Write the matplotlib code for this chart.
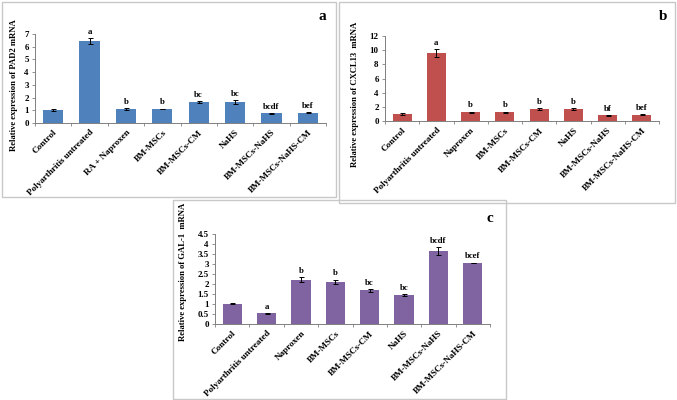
import matplotlib
matplotlib.use('Agg')
import matplotlib.pyplot as plt
from matplotlib.patches import Rectangle
import numpy as np

plt.rcParams['font.family'] = ['Liberation Serif', 'DejaVu Serif']
plt.rcParams['font.weight'] = 'bold'

W, H = 677, 400

# panel a - PAD2
groups_a = ['Control', 'Polyarthritis untreated', 'RA + Naproxen', 'BM-MSCs',
            'BM-MSCs-CM', 'NaHS', 'BM-MSCs-NaHS', 'BM-MSCs-NaHS-CM']
pad2 = [1.02, 6.45, 1.08, 1.10, 1.65, 1.65, 0.77, 0.82]
pad2_err = [0.08, 0.20, 0.08, 0.03, 0.08, 0.12, 0.03, 0.03]
pad2_sig = ['', 'a', 'b', 'b', 'bc', 'bc', 'bcdf', 'bef']

# panel b - CXCL13
groups_bc = ['Control', 'Polyarthritis untreated', 'Naproxen', 'BM-MSCs',
             'BM-MSCs-CM', 'NaHS', 'BM-MSCs-NaHS', 'BM-MSCs-NaHS-CM']
cxcl13 = [1.00, 9.55, 1.25, 1.25, 1.70, 1.70, 0.80, 0.90]
cxcl13_err = [0.12, 0.55, 0.08, 0.08, 0.15, 0.15, 0.05, 0.05]
cxcl13_sig = ['', 'a', 'b', 'b', 'b', 'b', 'bf', 'bef']

# panel c - GAL-1
gal1 = [1.02, 0.53, 2.22, 2.10, 1.68, 1.45, 3.65, 3.05]
gal1_err = [0.04, 0.02, 0.12, 0.12, 0.08, 0.06, 0.20, 0.02]
gal1_sig = ['', 'a', 'b', 'b', 'bc', 'bc', 'bcdf', 'bcef']


def px_rect(x0, y0, x1, y1):
    return [x0 / W, 1 - y1 / H, (x1 - x0) / W, (y1 - y0) / H]


def draw_panel(fig, box, ax_box, names, vals, errs, sig, color, ymax, ystep,
               ylabel, label_pos, letter, letter_xy, fmt):
    fig.patches.append(Rectangle((box[0] / W, 1 - box[3] / H),
                                 (box[2] - box[0]) / W, (box[3] - box[1]) / H,
                                 transform=fig.transFigure, fill=False,
                                 edgecolor='#c8c8c8', linewidth=1.0))
    ax = fig.add_axes(px_rect(*ax_box))
    x = np.arange(len(vals))
    ax.bar(x, vals, width=0.56, color=color, zorder=2)
    ax.errorbar(x, vals, yerr=errs, fmt='none', ecolor='black',
                elinewidth=0.7, capsize=1.8, capthick=0.7, zorder=3)
    for xi, v, e, s in zip(x, vals, errs, sig):
        ax.text(xi, v + e + ymax * 0.025, s, ha='center', va='bottom',
                fontsize=6.3, fontweight='bold')
    ax.set_xlim(-0.5, len(vals) - 0.5)
    ax.set_ylim(0, ymax)
    ticks = np.arange(0, ymax + ystep / 2, ystep)
    ax.set_yticks(ticks)
    ax.set_yticklabels([fmt(t) for t in ticks], fontsize=6.5, fontweight='bold')
    ax.set_xticks(x)
    ax.set_xticklabels(names, rotation=45, ha='right', rotation_mode='anchor',
                       fontsize=6.6, fontweight='bold')
    ax.set_xticks(np.arange(-0.5, len(vals)), minor=True)
    ax.tick_params(axis='x', which='major', length=0, pad=4)
    ax.tick_params(axis='x', which='minor', length=2.5, width=0.6, color='#808080')
    ax.tick_params(axis='y', length=2.5, width=0.6, color='#808080', pad=2)
    for sp in ['top', 'right']:
        ax.spines[sp].set_visible(False)
    for sp in ['left', 'bottom']:
        ax.spines[sp].set_color('#808080')
        ax.spines[sp].set_linewidth(0.7)
    ax.set_ylabel(ylabel, fontsize=6.2, fontweight='bold', va='center')
    lx = (label_pos[0] - ax_box[0]) / (ax_box[2] - ax_box[0])
    ly = (ax_box[3] - label_pos[1]) / (ax_box[3] - ax_box[1])
    ax.yaxis.set_label_coords(lx, ly)
    fig.text(letter_xy[0] / W, 1 - letter_xy[1] / H, letter, fontsize=11,
             fontweight='bold', ha='center', va='center')
    return ax


fig = plt.figure(figsize=(W / 100, H / 100), dpi=100)

draw_panel(fig, (2, 2, 336, 197), (35, 34, 326, 123), groups_a, pad2, pad2_err,
           pad2_sig, '#4f81bd', 7, 1, 'Relative expression of PAD2 mRNA',
           (14, 85), 'a', (322, 17), lambda t: '%d' % t)
draw_panel(fig, (339, 2, 675, 203), (385, 36, 659, 121), groups_bc, cxcl13,
           cxcl13_err, cxcl13_sig, '#c0504d', 12, 2,
           'Relative expression of CXCL13  mRNA', (355, 94), 'b', (663, 17),
           lambda t: '%d' % t)
draw_panel(fig, (173, 200, 506, 399), (215, 234, 490, 324), groups_bc, gal1,
           gal1_err, gal1_sig, '#8064a2', 4.5, 0.5,
           'Relative expression of GAL-1  mRNA', (183, 272), 'c', (490, 218),
           lambda t: ('%g' % t))

fig.savefig('out.png', dpi=100)
